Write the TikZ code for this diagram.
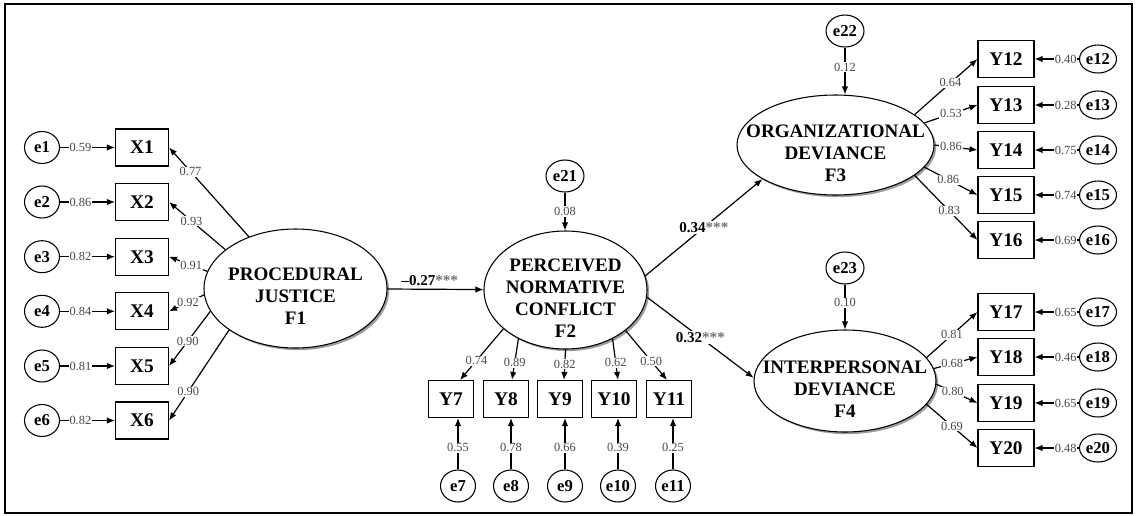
\documentclass[tikz,border=0pt]{standalone}
\usepackage{fontspec}
\setmainfont{Liberation Serif}
\usetikzlibrary{shapes.geometric,arrows.meta,shadows}
\begin{document}
\begin{tikzpicture}[x=0.75pt,y=-0.75pt,
  lat/.style={ellipse, draw, line width=0.8pt, fill=white, inner sep=0pt,
    drop shadow={shadow xshift=1.6pt, shadow yshift=-1.6pt, fill=black!55, opacity=0.7}},
  ltext/.style={align=center, inner sep=0pt, yshift=-6pt,
    font=\bfseries\fontsize{14.3}{16.5}\selectfont},
  obsbox/.style={draw, line width=0.8pt, fill=white, inner sep=0pt, minimum height=27.75pt,
    font=\bfseries\fontsize{14.5}{16}\selectfont},
  errnode/.style={ellipse, draw, line width=0.8pt, fill=white, inner sep=0pt,
    font=\bfseries\fontsize{12.5}{14}\selectfont},
  num/.style={fill=white, inner sep=0.6pt, text=black!72, font=\fontsize{9.3}{10}\selectfont},
  coef/.style={fill=white, inner sep=1pt, font=\bfseries\fontsize{11.3}{12}\selectfont},
  arr/.style={-{Latex[length=6pt,width=4.8pt]}, line width=0.9pt}]
\useasboundingbox (0,0) rectangle (1138,515);
\draw[line width=1.5pt] (5,4) rectangle (1132,513);

% ---------- latent variables ----------
\node[lat, minimum width=137.25pt, minimum height=89.25pt] (F1) at (295.5,288.5) {};
\node[ltext] (F1t) at (F1) {PROCEDURAL\\JUSTICE\\F1};
\node[lat, minimum width=122.25pt, minimum height=88.5pt] (F2) at (565.5,290) {};
\node[ltext] (F2t) at (F2) {PERCEIVED\\NORMATIVE\\CONFLICT\\F2};
\node[lat, minimum width=147.75pt, minimum height=75pt] (F3) at (835.5,145) {};
\node[ltext] (F3t) at (F3) {ORGANIZATIONAL\\DEVIANCE\\F3};
\node[lat, minimum width=136.5pt, minimum height=76.5pt] (F4) at (845,381) {};
\node[ltext] (F4t) at (F4) {INTERPERSONAL\\DEVIANCE\\F4};

% ---------- left block ----------
\foreach \i/\y in {1/147.5,2/202,3/256.7,4/311.3,5/366,6/420.5}{
  \node[errnode, minimum width=26.25pt, minimum height=24pt] (e\i) at (42,\y) {e\i};
  \node[obsbox, minimum width=39.75pt] (X\i) at (142,\y) {X\i};
}
\foreach \i/\v in {1/0.59,2/0.86,3/0.82,4/0.84,5/0.81,6/0.82}
  \draw[arr] (e\i) -- (X\i) node[num,pos=0.37]{\v};
\foreach \i/\ang/\p/\v in {1/132.6/0.73/0.77,2/151.4/0.6/0.93,3/169.7/0.42/0.91,4/184.1/0.46/0.92,5/195.9/0.55/0.90,6/212.4/0.68/0.90}
  \draw[arr] (F1.\ang) -- (X\i.east) node[num,pos=\p]{\v};

% ---------- middle block ----------
\node[errnode, minimum width=28.5pt, minimum height=24pt] (e21) at (565,176) {e21};
\draw[arr] (e21) -- (e21 |- F2.north) node[num,pos=0.5]{0.08};
\draw[arr] (F1) -- (F2) node[coef,above=1.5pt,pos=0.44]{--0.27\textcolor{black!55}{***}};

\foreach \i/\x in {7/451,8/506,9/560,10/614,11/669}
  \node[obsbox, minimum width=33.75pt] (Y\i) at (\x,399) {Y\i};
\foreach \i/\x in {7/458,8/511,9/565,10/618,11/673}
  \node[errnode, minimum width=26.25pt, minimum height=24pt] (e\i) at (\x,486) {e\i};
\foreach \i/\v in {7/0.55,8/0.78,9/0.66,10/0.39,11/0.25}
  \draw[arr] (e\i.north) -- (e\i.north |- Y\i.south) node[num,pos=0.42]{\v};
\foreach \i/\ang/\dx/\p/\v in {7/212.8/6.75/0.62/0.74,8/226.2/4.5/0.58/0.89,9/270/3/0.48/0.82,10/314.4/3/0.58/0.62,11/326.7/-1.5/0.62/0.50}
  \draw[arr] (F2.\ang) -- ([xshift=\dx pt]Y\i.north) node[num,pos=\p]{\v};

% ---------- structural paths ----------
\draw[arr] (F2.10) -- (F3.205) node[coef,pos=0.5]{0.34\textcolor{black!55}{***}};
\draw[arr] (F2.-5) -- (F4.178) node[coef,pos=0.5]{0.32\textcolor{black!55}{***}};

% ---------- right upper block ----------
\node[errnode, minimum width=28.5pt, minimum height=24pt] (e22) at (845,31) {e22};
\draw[arr] (e22.south) -- (e22.south |- F3.north) node[num,pos=0.42]{0.12};
\foreach \i/\y in {12/59,13/105,14/150,15/195,16/240}{
  \node[obsbox, minimum width=42pt] (Y\i) at (1006,\y) {Y\i};
  \node[errnode, minimum width=27.75pt, minimum height=21pt] (e\i) at (1098,\y) {e\i};
}
\foreach \i/\v in {12/0.40,13/0.28,14/0.75,15/0.74,16/0.69}
  \draw[arr] (e\i) -- (Y\i) node[num,pos=0.3]{\v};
\foreach \i/\ang/\p/\v in {12/21.5/0.57/0.64,13/14/0.5/0.53,14/0/0.38/0.86,15/-14/0.45/0.86,16/-21.5/0.55/0.83}
  \draw[arr] (F3.\ang) -- (Y\i.west) node[num,pos=\p]{\v};

% ---------- right lower block ----------
\node[errnode, minimum width=28.5pt, minimum height=24pt] (e23) at (845,268) {e23};
\draw[arr] (e23) -- (e23 |- F4.north) node[num,pos=0.4]{0.10};
\foreach \i/\y in {17/312,18/357,19/403,20/448}{
  \node[obsbox, minimum width=42pt] (Y\i) at (1006,\y) {Y\i};
  \node[errnode, minimum width=27.75pt, minimum height=21pt] (e\i) at (1098,\y) {e\i};
}
\foreach \i/\v in {17/0.65,18/0.46,19/0.65,20/0.48}
  \draw[arr] (e\i) -- (Y\i) node[num,pos=0.3]{\v};
\foreach \i/\ang/\p/\v in {17/16.3/0.5/0.81,18/8.7/0.42/0.68,19/-2.5/0.4/0.80,20/-16/0.5/0.69}
  \draw[arr] (F4.\ang) -- (Y\i.west) node[num,pos=\p]{\v};
\end{tikzpicture}
\end{document}
